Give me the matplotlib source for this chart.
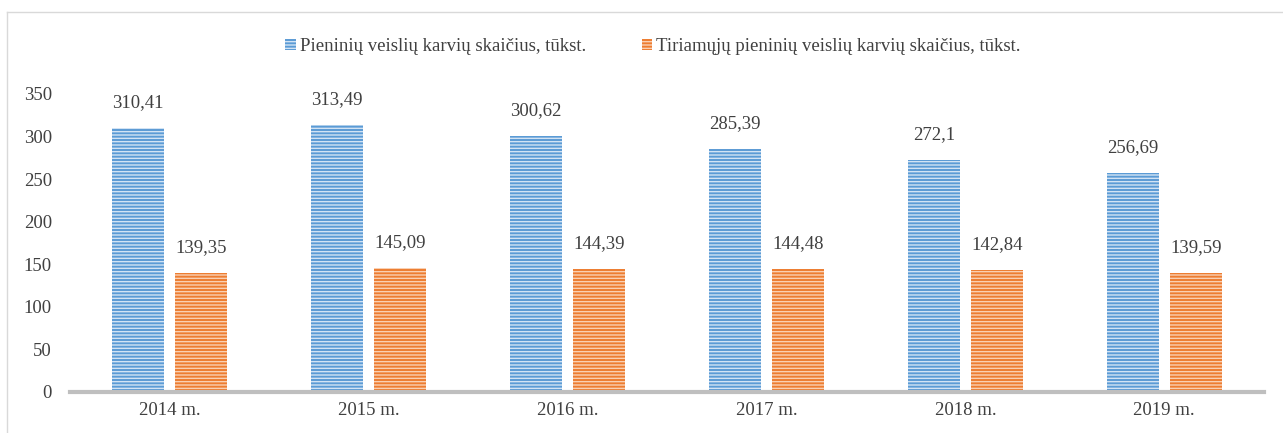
import numpy as np
import matplotlib
matplotlib.use("Agg")
import matplotlib.pyplot as plt
from matplotlib.lines import Line2D

# duomenys
years = ["2014 m.", "2015 m.", "2016 m.", "2017 m.", "2018 m.", "2019 m."]
dairy_cows = [310.41, 313.49, 300.62, 285.39, 272.1, 256.69]
tested_cows = [139.35, 145.09, 144.39, 144.48, 142.84, 139.59]
label_dairy = "Pieninių veislių karvių skaičius, tūkst."
label_tested = "Tiriamųjų pieninių veislių karvių skaičius, tūkst."

plt.rcParams['font.family'] = ['Liberation Serif', 'DejaVu Serif']
plt.rcParams['hatch.linewidth'] = 1.0

fig = plt.figure(figsize=(12.83, 4.33), dpi=100)
ax = fig.add_axes([0.0546, 0.0947, 0.9304, 0.6883])

x = np.arange(len(years))
w = 0.26
off = 0.158
fs = 13.5

def fmt(v):
    s = f"{v:.2f}".rstrip('0').rstrip('.')
    return s.replace('.', ',')

b1 = ax.bar(x - off, dairy_cows, w, color='#5B9BD5', edgecolor='#D2E3F4',
            linewidth=0, hatch='-----', label=label_dairy)
b2 = ax.bar(x + off, tested_cows, w, color='#ED7D31', edgecolor='#F9D0B3',
            linewidth=0, hatch='-----', label=label_tested)

for bars, vals in ((b1, dairy_cows), (b2, tested_cows)):
    for r, v in zip(bars, vals):
        ax.text(r.get_x() + r.get_width() / 2, v + 20, fmt(v),
                ha='center', va='bottom', fontsize=fs, color='#404040')

ax.set_xlim(-0.5, len(years) - 0.5)
ax.set_ylim(0, 350)
ax.set_yticks(range(0, 351, 50))
ax.set_xticks(x)
ax.set_xticklabels(years)
ax.tick_params(axis='both', length=0, labelsize=fs, colors='#404040')
ax.tick_params(axis='y', pad=13)
ax.tick_params(axis='x', pad=7)
for s in ('top', 'right', 'left'):
    ax.spines[s].set_visible(False)
ax.spines['bottom'].set_color('#BFBFBF')
ax.spines['bottom'].set_linewidth(3)

leg = fig.legend(loc='center', bbox_to_anchor=(0.509, 0.893), ncol=2, frameon=False,
                 fontsize=fs, handlelength=0.55, handleheight=0.55,
                 handletextpad=0.2, columnspacing=3.0)
for t in leg.get_texts():
    t.set_color('#404040')

# rėmelis
fig.add_artist(Line2D([7 / 1283, 7 / 1283], [0, 1 - 12 / 433],
                      transform=fig.transFigure, color='#D9D9D9', lw=1))
fig.add_artist(Line2D([7 / 1283, 1], [1 - 12 / 433, 1 - 12 / 433],
                      transform=fig.transFigure, color='#D9D9D9', lw=1))

fig.savefig("out.png", dpi=100)
